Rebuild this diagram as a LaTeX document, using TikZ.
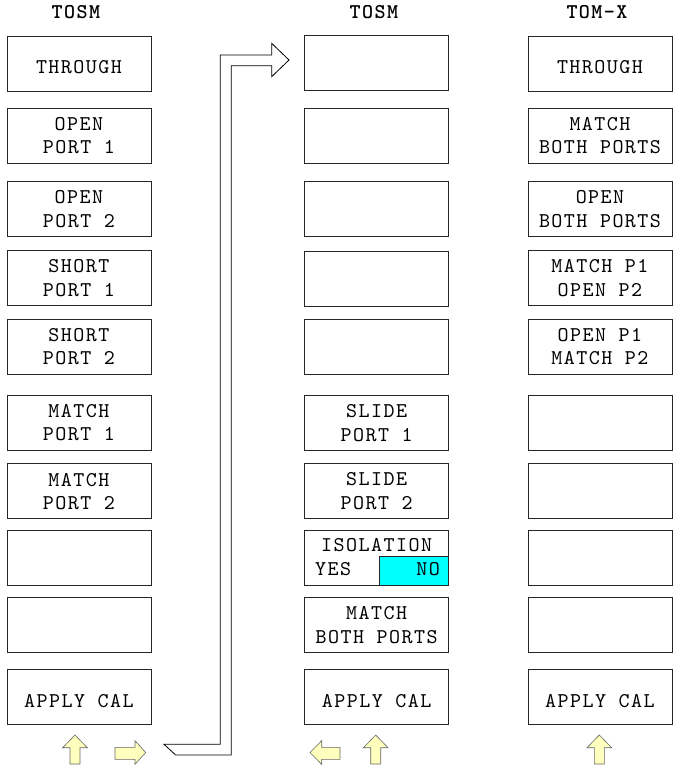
\documentclass[tikz,border=0pt]{standalone}
\usepackage{fontspec}
\newfontfamily\keyfont{lmmono10-regular.otf}[LetterSpace=7,
  BoldFont=lmmonolt10-bold.otf]
\newcommand\softfont{\keyfont\fontsize{21pt}{23.3pt}\selectfont}
\definecolor{isocyan}{RGB}{0,255,255}
\definecolor{hintyellow}{RGB}{255,255,190}

\tikzset{
  softkey/.style={draw=black!85, line width=0.8pt, minimum width=144pt,
    minimum height=55pt, inner sep=0pt, align=center, font=\softfont},
  onekey/.style={softkey, text height=20.5pt},
  keytitle/.style={anchor=base, inner sep=0pt, font=\softfont\bfseries},
  keytext/.style={inner sep=0pt, font=\softfont},
  hint/.style={draw=black!60, line width=0.6pt, fill=hintyellow},
  pathway/.style={draw=black, line width=0.8pt, fill=white}
}

\begin{document}
\begin{tikzpicture}[x=1pt, y=-1pt]
  \useasboundingbox (0,0) rectangle (675,766);

  % column headings
  \node[keytitle] (headl) at (76,18.3) {TOSM};
  \node[keytitle] (headm) at (374,18.3) {TOSM};
  \node[keytitle] (headr) at (597,18.3) {TOM-X};

  % first softkey menu
  \node[onekey]  (t1)  at (79,63.4)  {THROUGH};
  \node[softkey] (t2)  at (79,135.5) {OPEN\\PORT 1};
  \node[softkey] (t3)  at (79,209)   {OPEN\\PORT 2};
  \node[softkey] (t4)  at (79,278)   {SHORT\\PORT 1};
  \node[softkey] (t5)  at (79,346.8) {SHORT\\PORT 2};
  \node[softkey] (t6)  at (79,422.7) {MATCH\\PORT 1};
  \node[softkey] (t7)  at (79,491.3) {MATCH\\PORT 2};
  \node[softkey] (t8)  at (79,557.5) {};
  \node[softkey] (t9)  at (79,625)   {};
  \node[onekey]  (t10) at (79,697.2) {APPLY CAL};

  % second page of the same menu
  \node[softkey] (s1)  at (376.7,63.3)  {};
  \node[softkey] (s2)  at (376.7,135.5) {};
  \node[softkey] (s3)  at (376.7,209)   {};
  \node[softkey] (s4)  at (376.7,278.5) {};
  \node[softkey] (s5)  at (376.7,347)   {};
  \node[softkey] (s6)  at (376.7,423)   {SLIDE\\PORT 1};
  \node[softkey] (s7)  at (376.7,491)   {SLIDE\\PORT 2};
  \node[softkey] (s8)  at (376.7,557.5) {};
  \node[softkey] (s9)  at (376.7,625)   {MATCH\\BOTH PORTS};
  \node[onekey]  (s10) at (376.7,697.2) {APPLY CAL};

  % isolation toggle
  \node[draw=black!85, line width=0.8pt, fill=isocyan, inner sep=0pt,
    minimum width=69pt, minimum height=28.5pt, anchor=south east]
    (isono) at (s8.south east) {};
  \node[keytext, anchor=base] (isotxt) at (376.7,551.7) {ISOLATION};
  \node[keytext, anchor=base west] (isoyes) at (315,575) {YES};
  \node[keytext, anchor=base east] (isonotxt) at (440,575) {NO};

  % TOM-X menu
  \node[onekey]  (x1)  at (600,63.4)  {THROUGH};
  \node[softkey] (x2)  at (600,135.5) {MATCH\\BOTH PORTS};
  \node[softkey] (x3)  at (600,209)   {OPEN\\BOTH PORTS};
  \node[softkey] (x4)  at (600,278)   {MATCH P1\\OPEN P2};
  \node[softkey] (x5)  at (600,346.8) {OPEN P1\\MATCH P2};
  \node[softkey] (x6)  at (600,422.7) {};
  \node[softkey] (x7)  at (600,491.3) {};
  \node[softkey] (x8)  at (600,557.5) {};
  \node[softkey] (x9)  at (600,625)   {};
  \node[onekey]  (x10) at (600,697.2) {APPLY CAL};

  % hollow arrow to the next page
  \draw[pathway] (164,744.3) -- (220.3,744.3) -- (220.3,55) -- (271.7,55)
    -- (271.7,43.3) -- (289,60) -- (271.7,76.7) -- (271.7,65.7)
    -- (231.3,65.7) -- (231.3,755) -- (175.7,755) -- cycle;

  % scroll hints
  \draw[hint] (75,735) -- (87.3,747.7) -- (80,747.7) -- (80,764)
    -- (70,764) -- (70,747.7) -- (62.7,747.7) -- cycle;
  \draw[hint] (115,747.3) -- (135,747.3) -- (135,740.7) -- (145.7,752.5)
    -- (135,764.3) -- (135,759.3) -- (115,759.3) -- cycle;
  \draw[hint] (340,747.3) -- (321.7,747.3) -- (321.7,740.7) -- (310,752.5)
    -- (321.7,764.3) -- (321.7,759.3) -- (340,759.3) -- cycle;
  \draw[hint] (375.7,735) -- (388,747.7) -- (380.7,747.7) -- (380.7,764)
    -- (370.7,764) -- (370.7,747.7) -- (363.4,747.7) -- cycle;
  \draw[hint] (599.3,735) -- (611.6,747.7) -- (604.3,747.7) -- (604.3,764)
    -- (594.3,764) -- (594.3,747.7) -- (587,747.7) -- cycle;
\end{tikzpicture}
\end{document}
